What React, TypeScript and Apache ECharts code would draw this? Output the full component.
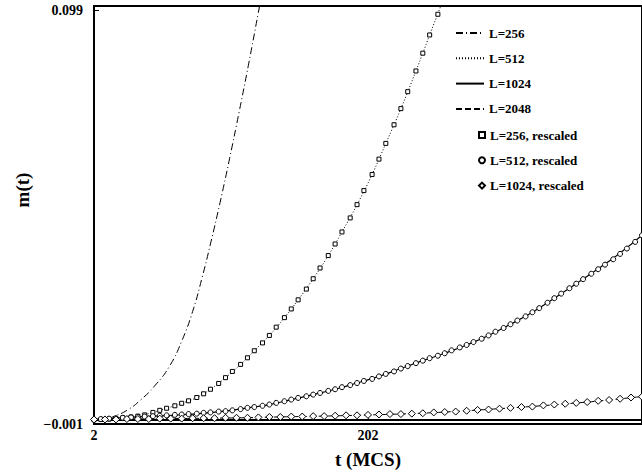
import React, { useEffect, useRef } from 'react';
import * as echarts from 'echarts';

const FONT = '"Liberation Serif", "Times New Roman", Times, serif';

const xTicks = [2, 202];
const yTicks = [-0.001, 0.099];

// L=256 (dash-dot line)
const L256: [number, number][] = [
  [2, 0], [10, 0.0002], [17, 0.0009], [27, 0.0025], [36, 0.0048], [46, 0.0081],
  [57, 0.0129], [66, 0.019], [74, 0.0262], [81, 0.0345], [87, 0.0425], [94, 0.0525],
  [101, 0.0632], [108, 0.0745], [115, 0.0862], [122, 0.0985], [124, 0.102],
];

// L=512 (dotted line)
const L512: [number, number][] = [
  [2, 0], [13, 0.0002], [23, 0.0005], [34, 0.0009], [45, 0.0018], [55, 0.0028],
  [66, 0.004], [77, 0.0054], [87, 0.0074], [98, 0.0102], [109, 0.0134], [119, 0.0167],
  [130, 0.0204], [141, 0.0247], [151, 0.029], [162, 0.0341], [173, 0.0397], [183, 0.0454],
  [194, 0.052], [205, 0.0593], [215, 0.0668], [226, 0.0752], [237, 0.0843], [247, 0.093],
  [258, 0.1025],
];

// L=1024 (solid line)
const L1024: [number, number][] = [
  [2, 0.0001], [22, 0.0005], [46, 0.0009], [70, 0.0013], [94, 0.002], [114, 0.0029],
  [130, 0.0037], [146, 0.0049], [162, 0.0061], [178, 0.0074], [194, 0.0089], [210, 0.0105],
  [226, 0.0124], [242, 0.0143], [258, 0.0161], [274, 0.0181], [290, 0.0204], [306, 0.0231],
  [322, 0.026], [338, 0.0294], [354, 0.0329], [370, 0.0365], [386, 0.0403], [402, 0.0446],
];

// L=2048 (dashed line)
const L2048: [number, number][] = [
  [2, 0.0001], [57, 0.0003], [110, 0.0005], [136, 0.0007], [168, 0.0009], [204, 0.0012],
  [240, 0.0016], [264, 0.002], [288, 0.0025], [320, 0.0032], [351, 0.004], [375, 0.0047],
  [398, 0.0055], [402, 0.0056],
];

// L=256, rescaled (squares)
const R256: [number, number][] = [
  [2, 0], [7, 0.0001], [13, 0.0002], [18, 0.0003], [23, 0.0005], [29, 0.0007], [34, 0.0009],
  [39, 0.0012], [45, 0.0018], [50, 0.0023], [55, 0.0028], [61, 0.0034], [66, 0.004],
  [71, 0.0046], [77, 0.0054], [82, 0.0063], [87, 0.0074], [93, 0.0088], [98, 0.0102],
  [103, 0.0117], [109, 0.0134], [114, 0.015], [119, 0.0167], [125, 0.0186], [130, 0.0204],
  [135, 0.0224], [141, 0.0247], [146, 0.0268], [151, 0.029], [157, 0.0316], [162, 0.0341],
  [167, 0.0367], [173, 0.0397], [178, 0.0425], [183, 0.0454], [189, 0.0488], [194, 0.052],
  [199, 0.0554], [205, 0.0593], [210, 0.063], [215, 0.0668], [221, 0.0713], [226, 0.0752],
  [231, 0.0793], [237, 0.0843], [242, 0.0886], [247, 0.093], [253, 0.098],
];

// L=512, rescaled (circles)
const R512: [number, number][] = [
  [2, 0.0001], [7, 0.0002], [13, 0.0003], [18, 0.0004], [23, 0.0005], [29, 0.0006],
  [34, 0.0007], [39, 0.0008], [45, 0.0009], [50, 0.001], [55, 0.0011], [61, 0.0012],
  [66, 0.0013], [71, 0.0014], [77, 0.0015], [82, 0.0017], [87, 0.0018], [93, 0.002],
  [98, 0.0021], [103, 0.0023], [109, 0.0026], [114, 0.0029], [119, 0.0031], [125, 0.0034],
  [130, 0.0037], [135, 0.0041], [141, 0.0045], [146, 0.0049], [151, 0.0053], [157, 0.0057],
  [162, 0.0061], [167, 0.0065], [173, 0.007], [178, 0.0074], [183, 0.0079], [189, 0.0084],
  [194, 0.0089], [199, 0.0094], [205, 0.0099], [210, 0.0105], [215, 0.0111], [221, 0.0117],
  [226, 0.0124], [231, 0.013], [237, 0.0137], [242, 0.0143], [247, 0.0149], [253, 0.0155],
  [258, 0.0161], [263, 0.0168], [269, 0.0175], [274, 0.0181], [279, 0.0188], [285, 0.0196],
  [290, 0.0204], [295, 0.0213], [301, 0.0222], [306, 0.0231], [311, 0.024], [317, 0.025],
  [322, 0.026], [327, 0.027], [333, 0.0283], [338, 0.0294], [343, 0.0305], [349, 0.0318],
  [354, 0.0329], [359, 0.034], [365, 0.0353], [370, 0.0364], [375, 0.0375], [381, 0.0388],
  [386, 0.0401], [391, 0.0414], [397, 0.043], [402, 0.0446],
];

// L=1024, rescaled (diamonds)
const R1024: [number, number][] = [
  [2, 0.0001], [10, 0.0001], [18, 0.0001], [26, 0.0002], [34, 0.0002], [42, 0.0002],
  [50, 0.0003], [58, 0.0003], [66, 0.0003], [74, 0.0004], [82, 0.0004], [90, 0.0004],
  [98, 0.0005], [106, 0.0005], [114, 0.0005], [122, 0.0006], [130, 0.0007], [138, 0.0007],
  [146, 0.0008], [154, 0.0008], [162, 0.0009], [170, 0.0009], [178, 0.001], [186, 0.0011],
  [194, 0.0011], [202, 0.0012], [210, 0.0013], [218, 0.0014], [226, 0.0014], [234, 0.0015],
  [242, 0.0016], [250, 0.0018], [258, 0.0019], [266, 0.002], [274, 0.0022], [282, 0.0024],
  [290, 0.0025], [298, 0.0027], [306, 0.0029], [314, 0.0031], [322, 0.0032], [330, 0.0035],
  [338, 0.0037], [346, 0.0039], [354, 0.0041], [362, 0.0043], [370, 0.0046], [378, 0.0048],
  [386, 0.0051], [394, 0.0054], [402, 0.0056],
];

const lineNames = ['L=256', 'L=512', 'L=1024', 'L=2048'];
const markerNames = ['L=256, rescaled', 'L=512, rescaled', 'L=1024, rescaled'];

const textBase = { fontFamily: FONT, fontWeight: 'bold' as const, color: '#000' };

export default function App() {
  const ref = useRef<HTMLDivElement>(null);
  useEffect(() => {
    if (!ref.current) return;
    const chart = echarts.init(ref.current, undefined, { renderer: 'svg' });
    const lineSeries = (name: string, data: [number, number][], type: any, width = 1) => ({
      name,
      type: 'line',
      data,
      symbol: 'none',
      smooth: 0.5,
      clip: true,
      lineStyle: { color: '#000', width, type },
      itemStyle: { color: '#000' },
      z: 2,
    });
    const markerSeries = (name: string, data: [number, number][], symbol: string, size: number) => ({
      name,
      type: 'scatter',
      data,
      symbol,
      symbolSize: size,
      clip: true,
      itemStyle: { color: '#fff', borderColor: '#000', borderWidth: 1, opacity: 1 },
      z: 3,
    });
    chart.setOption({
      animation: false,
      backgroundColor: '#fff',
      grid: {
        left: 94, right: -5, top: 6, bottom: 46,
        show: true, borderColor: '#000', borderWidth: 2, backgroundColor: 'transparent',
      },
      xAxis: {
        type: 'value',
        min: 2,
        max: 402,
        name: 't (MCS)',
        nameLocation: 'middle',
        nameGap: 26,
        nameTextStyle: { ...textBase, fontSize: 19 },
        axisLine: { show: true, lineStyle: { color: '#000', width: 2 } },
        axisTick: { show: true, inside: true, length: 4, customValues: xTicks, lineStyle: { color: '#000' } },
        axisLabel: { ...textBase, fontSize: 14, margin: 4, customValues: xTicks },
        splitLine: { show: false },
      },
      yAxis: {
        type: 'value',
        min: -0.001,
        max: 0.1,
        axisLine: { show: true, lineStyle: { color: '#000', width: 2 } },
        axisTick: { show: true, inside: true, length: 5, customValues: yTicks, lineStyle: { color: '#000' } },
        axisLabel: {
          ...textBase,
          fontSize: 14,
          margin: 11,
          customValues: yTicks,
          formatter: (v: number) => (Math.abs(v - 0.099) < 1e-6 ? '0.099' : Math.abs(v + 0.001) < 1e-6 ? '\u22120.001' : ''),
        },
        splitLine: { show: false },
      },
      legend: [
        {
          data: lineNames,
          orient: 'vertical',
          left: 450,
          top: 20,
          itemWidth: 28,
          itemHeight: 10,
          itemGap: 9.3,
          selectedMode: false,
          itemStyle: { color: 'transparent', borderWidth: 0, opacity: 0 },
          textStyle: { ...textBase, fontSize: 13, lineHeight: 16 },
        },
        {
          data: markerNames,
          orient: 'vertical',
          left: 473,
          top: 122,
          itemWidth: 6,
          itemHeight: 6,
          itemGap: 9.3,
          selectedMode: false,
          textStyle: { ...textBase, fontSize: 13, lineHeight: 16 },
        },
      ],
      graphic: [
        {
          type: 'text',
          x: 22,
          y: 190,
          rotation: Math.PI / 2,
          style: {
            text: 'm(t)',
            fontFamily: FONT,
            fontWeight: 'bold',
            fontSize: 19,
            fill: '#000',
            align: 'center',
            verticalAlign: 'middle',
          },
        },
      ],
      series: [
        lineSeries('L=256', L256, [7, 3, 1, 3]),
        lineSeries('L=512', L512, [1, 2]),
        lineSeries('L=1024', L1024, 'solid', 1.2),
        lineSeries('L=2048', L2048, [6, 3]),
        markerSeries('L=256, rescaled', R256, 'rect', 4),
        markerSeries('L=512, rescaled', R512, 'circle', 5),
        markerSeries('L=1024, rescaled', R1024, 'diamond', 7),
      ],
    });
    return () => chart.dispose();
  }, []);
  return (
    <div
      ref={ref}
      style={{ position: 'fixed', left: 0, top: 0, width: 642, height: 474, background: '#fff' }}
    />
  );
}
